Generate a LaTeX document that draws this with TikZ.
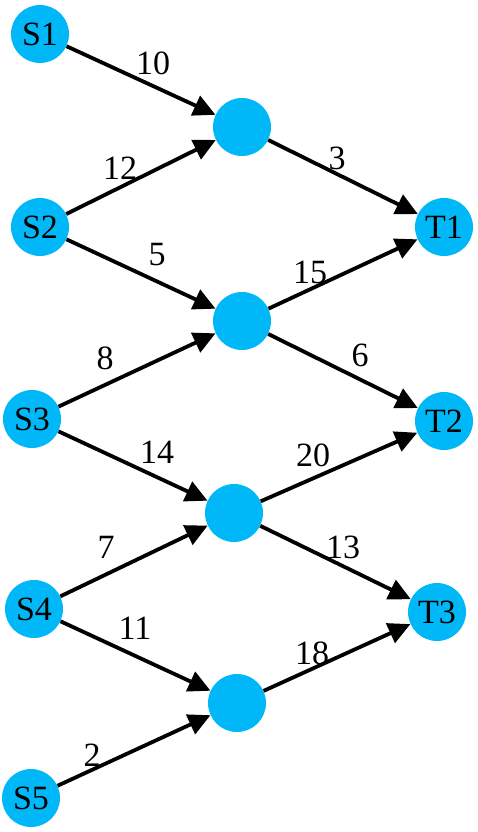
\documentclass[tikz,border=0pt]{standalone}
\usepackage{fontspec}
\setmainfont{Liberation Serif}
\usetikzlibrary{arrows.meta}
\definecolor{nodeblue}{RGB}{0,184,248}
\begin{document}
\begin{tikzpicture}[x=1pt,y=-1pt,
  vert/.style={circle,fill=nodeblue,minimum size=58pt,inner sep=0pt,font=\fontsize{34}{37}\selectfont},
  arr/.style={line width=3.8pt,-{Triangle[length=22pt,width=21pt]}},
  lbl/.style={font=\fontsize{34}{37}\selectfont,inner sep=0pt}]
\useasboundingbox (0,0) rectangle (477,832);
\node[vert] (S1) at (40,34) {S1};
\node[vert] (S2) at (40,227) {S2};
\node[vert] (S3) at (32,419) {S3};
\node[vert] (S4) at (34,609) {S4};
\node[vert] (S5) at (31,798) {S5};
\node[vert] (M1) at (242,127) {};
\node[vert] (M2) at (242,321) {};
\node[vert] (M3) at (234,513) {};
\node[vert] (M4) at (237,703) {};
\node[vert] (T1) at (444,227) {T1};
\node[vert] (T2) at (444,421) {T2};
\node[vert] (T3) at (437,612) {T3};
\draw[arr] (S1) -- (M1);
\draw[arr] (S2) -- (M1);
\draw[arr] (S2) -- (M2);
\draw[arr] (S3) -- (M2);
\draw[arr] (S3) -- (M3);
\draw[arr] (S4) -- (M3);
\draw[arr] (S4) -- (M4);
\draw[arr] (S5) -- (M4);
\draw[arr] (M1) -- (T1);
\draw[arr] (M2) -- (T1);
\draw[arr] (M2) -- (T2);
\draw[arr] (M3) -- (T2);
\draw[arr] (M3) -- (T3);
\draw[arr] (M4) -- (T3);
\node[lbl] (l10) at (153,63) {10};
\node[lbl] (l12) at (120,168) {12};
\node[lbl] (l5) at (157,255) {5};
\node[lbl] (l3) at (337,158) {3};
\node[lbl] (l15) at (310,272) {15};
\node[lbl] (l6) at (360,355) {6};
\node[lbl] (l8) at (105,358) {8};
\node[lbl] (l14) at (157,452) {14};
\node[lbl] (l7) at (106,547) {7};
\node[lbl] (l11) at (135,628) {11};
\node[lbl] (l20) at (313,455) {20};
\node[lbl] (l13) at (343,547) {13};
\node[lbl] (l18) at (312,653) {18};
\node[lbl] (l2) at (92,755) {2};
\end{tikzpicture}
\end{document}
